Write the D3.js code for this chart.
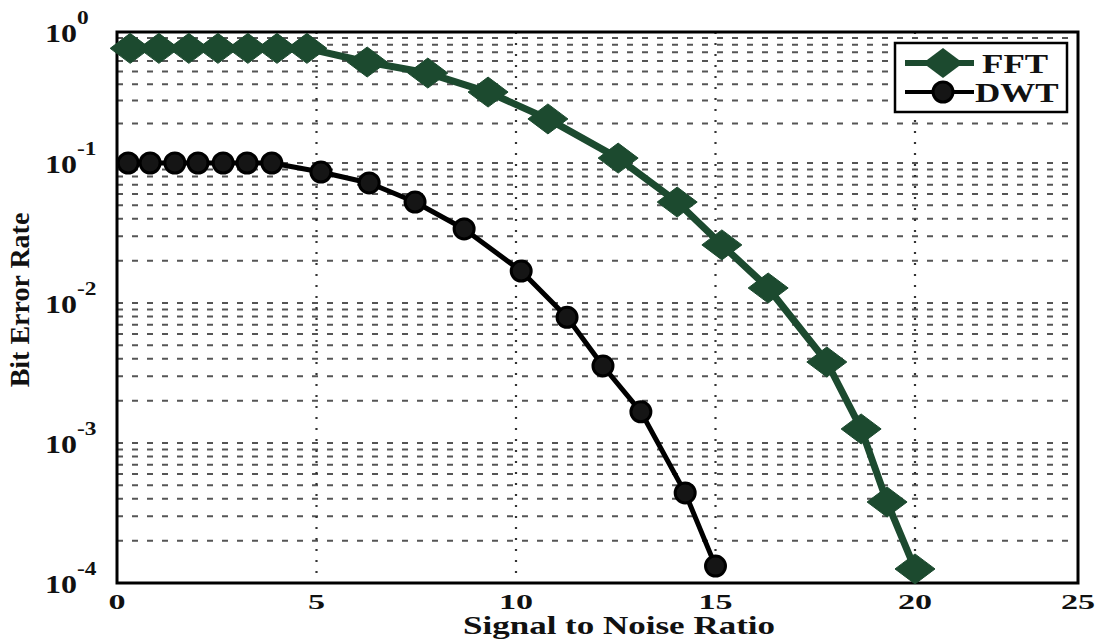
<!DOCTYPE html>
<html>
<head>
<meta charset="utf-8">
<script src="https://cdn.jsdelivr.net/npm/d3@7/dist/d3.min.js"></script>
<style>
	body { margin: 0; background: #fff; }
	text { font-family: "Liberation Serif", "Times New Roman", serif; font-weight: bold; fill: #111; }
</style>
</head>
<body>
<script>

// values
const snr_fft = [0.33, 1.05, 1.80, 2.53, 3.28, 4.01, 4.76, 6.27, 7.79, 9.30, 10.80, 12.56, 14.04, 15.16, 16.32, 17.79, 18.65, 19.30, 20.0];
const ber_fft = [0.75, 0.75, 0.75, 0.75, 0.75, 0.75, 0.75, 0.59, 0.486, 0.348, 0.217, 0.109, 0.0526, 0.026, 0.0128, 0.00379, 0.00126, 0.000379, 0.000126];

const snr_dwt = [0.28, 0.83, 1.45, 2.03, 2.66, 3.26, 3.88, 5.11, 6.32, 7.47, 8.70, 10.13, 11.28, 12.18, 13.13, 14.24, 15.0];
const ber_dwt = [0.1, 0.1, 0.1, 0.1, 0.1, 0.1, 0.1, 0.0862, 0.072, 0.0526, 0.0338, 0.0169, 0.0079, 0.00355, 0.00167, 0.00044, 0.000132];

const x_ticks = [0, 5, 10, 15, 20, 25];
const y_exponents = [0, -1, -2, -3, -4];
const series_names = ["FFT", "DWT"];

const width = 1104, height = 644;
const green = "#1c4a2f";

// the source image is stretched a bit, so the scales are piecewise
const x = d3.scaleLinear().domain([0, 20, 25]).range([117, 915, 1078]);
const y = d3.scaleLog().domain([1e-4, 1e-1, 1]).range([583, 163, 32]);

const svg = d3.select("body").append("svg")
	.attr("width", width)
	.attr("height", height);

// text in the picture is wider than the font, stretch it sideways
function stretched_text(parent, tx, ty, str, size, sx, anchor) {
	const g = parent.append("g")
		.attr("transform", "translate(" + tx + "," + ty + ") scale(" + sx + ",1)");
	g.append("text")
		.attr("font-size", size)
		.attr("text-anchor", anchor || "start")
		.text(str);
	return g;
}

// grid
const grid = svg.append("g").classed("grid", true);

let minor = [];
for (let e = -4; e <= -1; e++) {
	for (let m = 1; m <= 9; m++) {
		const v = m * Math.pow(10, e);
		if (v > 1e-4) minor.push(v);
	}
}

grid.selectAll("line.h")
	.data(minor)
	.enter().append("line")
	.classed("h", true)
	.attr("x1", x(0))
	.attr("x2", x(25))
	.attr("y1", d => y(d))
	.attr("y2", d => y(d))
	.attr("stroke", "#555")
	.attr("stroke-width", 2)
	.attr("stroke-dasharray", "6,9");

grid.selectAll("line.v")
	.data(x_ticks.slice(1, -1))
	.enter().append("line")
	.classed("v", true)
	.attr("x1", d => x(d))
	.attr("x2", d => x(d))
	.attr("y1", y(1))
	.attr("y2", y(1e-4))
	.attr("stroke", "#333")
	.attr("stroke-width", 2.2)
	.attr("stroke-dasharray", "2,9");

// frame
svg.append("rect")
	.attr("x", x(0))
	.attr("y", y(1))
	.attr("width", x(25) - x(0))
	.attr("height", y(1e-4) - y(1))
	.attr("fill", "none")
	.attr("stroke", "#000")
	.attr("stroke-width", 3);

// tick labels
const labels = svg.append("g").classed("labels", true);

x_ticks.forEach(t => {
	stretched_text(labels, x(t), 609, String(t), 22, 1.55, "middle");
});

y_exponents.forEach(e => {
	const g = labels.append("g")
		.attr("transform", "translate(45," + (y(Math.pow(10, e)) + 10) + ") scale(1.23,1)");
	g.append("text").attr("font-size", 26).text("10");
	g.append("text")
		.attr("font-size", 19)
		.attr("x", 26)
		.attr("y", -18)
		.text(e == 0 ? "0" : "-" + Math.abs(e));
});

// axis titles
stretched_text(labels, 619, 634, "Signal to Noise Ratio", 25, 1.4, "middle");

labels.append("text")
	.attr("font-size", 28)
	.attr("text-anchor", "middle")
	.attr("transform", "translate(29,300) rotate(-90)")
	.text("Bit Error Rate");

// series
const diamond = "M0,-15L20,0L0,15L-20,0Z";

const line = d3.line()
	.x(d => x(d[0]))
	.y(d => y(d[1]));

const fft = d3.zip(snr_fft, ber_fft);
const dwt = d3.zip(snr_dwt, ber_dwt);

svg.append("path")
	.datum(fft)
	.attr("d", line)
	.attr("fill", "none")
	.attr("stroke", green)
	.attr("stroke-width", 7)
	.attr("stroke-linejoin", "round");

svg.append("g").selectAll("path")
	.data(fft)
	.enter().append("path")
	.attr("d", diamond)
	.attr("transform", d => "translate(" + x(d[0]) + "," + y(d[1]) + ")")
	.attr("fill", green)
	.attr("stroke", green)
	.attr("stroke-width", 1);

svg.append("path")
	.datum(dwt)
	.attr("d", line)
	.attr("fill", "none")
	.attr("stroke", "#000")
	.attr("stroke-width", 5)
	.attr("stroke-linejoin", "round");

svg.append("g").selectAll("circle")
	.data(dwt)
	.enter().append("circle")
	.attr("cx", d => x(d[0]))
	.attr("cy", d => y(d[1]))
	.attr("r", 10)
	.attr("fill", "#151515")
	.attr("stroke", "#000")
	.attr("stroke-width", 3);

// legend
const legend = svg.append("g").classed("legend", true);

legend.append("rect")
	.attr("x", 895)
	.attr("y", 43)
	.attr("width", 172)
	.attr("height", 69)
	.attr("fill", "#fff")
	.attr("stroke", "#000")
	.attr("stroke-width", 2.5);

const rows = [63, 92];
series_names.forEach((name, i) => {
	const ly = rows[i];
	const col = i == 0 ? green : "#000";
	legend.append("line")
		.attr("x1", 905).attr("x2", 974)
		.attr("y1", ly).attr("y2", ly)
		.attr("stroke", col)
		.attr("stroke-width", i == 0 ? 6 : 4);
	if (i == 0) {
		legend.append("path")
			.attr("d", diamond)
			.attr("transform", "translate(943," + ly + ")")
			.attr("fill", green);
	} else {
		legend.append("circle")
			.attr("cx", 943).attr("cy", ly).attr("r", 10)
			.attr("fill", "#151515")
			.attr("stroke", "#000")
			.attr("stroke-width", 3);
	}
	stretched_text(legend, i == 0 ? 982 : 975, ly + 10, name, 28, 1.25, "start");
});

</script>
</body>
</html>
